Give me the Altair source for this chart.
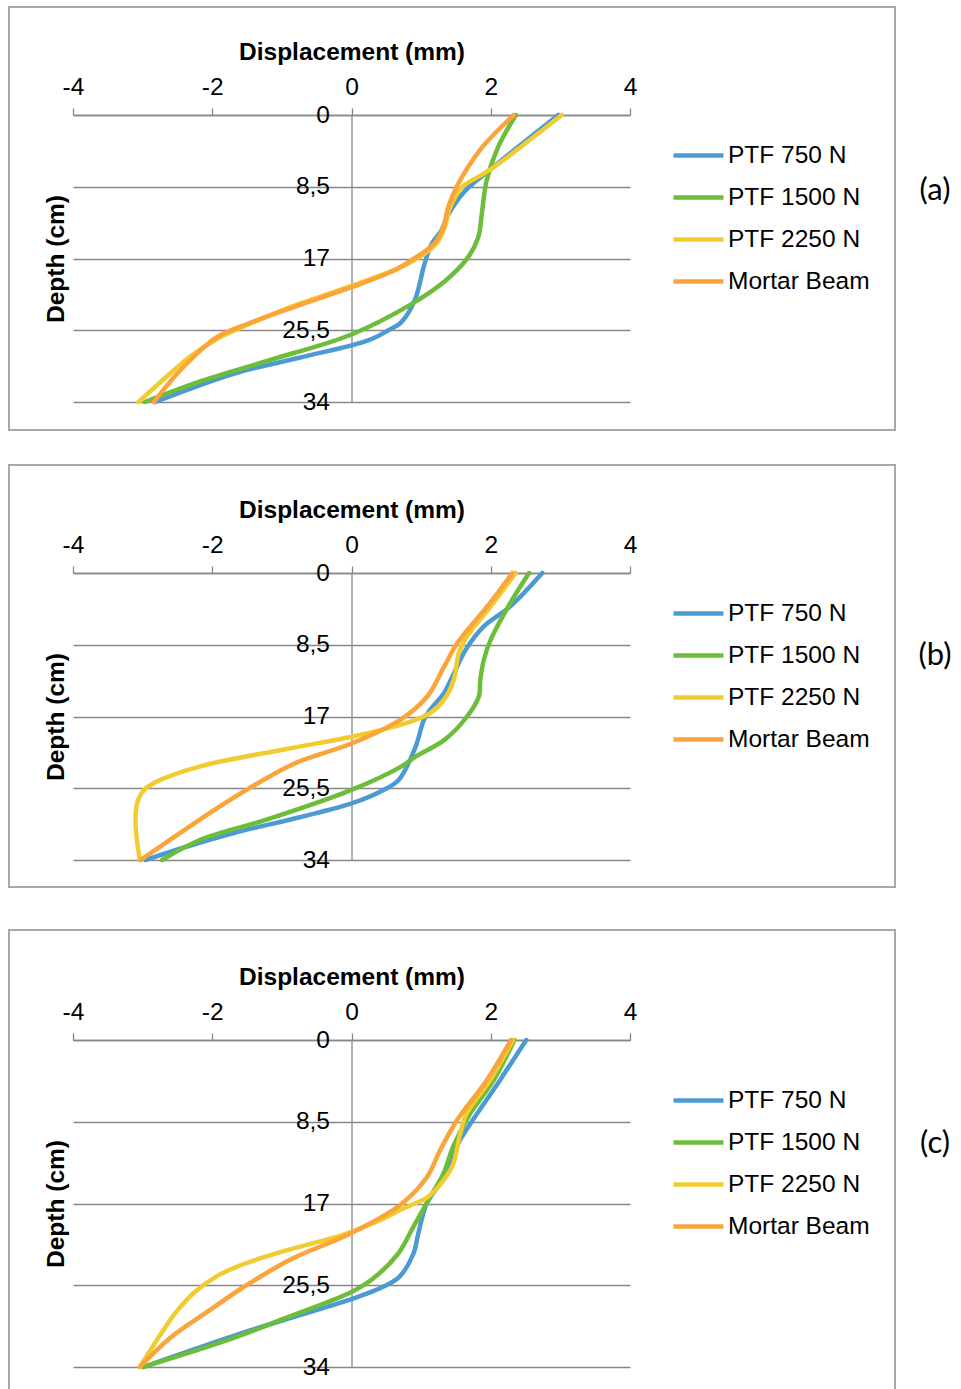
import altair as alt
import pandas as pd

SERIES = ["PTF 750 N", "PTF 1500 N", "PTF 2250 N", "Mortar Beam"]
COLORS = ["#4b9bd2", "#6cbd3a", "#f1cc30", "#faa43a"]

X_TICKS = [-4, -2, 0, 2, 4]
DEPTH_TICKS = [0, 8.5, 17, 25.5, 34]

# ---- panel (a) ----
a_750_depth = [0, 6.6, 9.0, 11.8, 13.7, 15.3, 17.6, 21.9, 24.5, 25.5, 26.7, 28.7, 30.6, 34]
a_750_disp = [2.97, 1.97, 1.63, 1.39, 1.29, 1.15, 1.05, 0.91, 0.72, 0.53, 0.24, -0.72, -1.67, -2.82]
a_1500_depth = [0, 3.9, 7.8, 11.8, 14.5, 16.9, 19.7, 22.4, 26.0, 29.1, 31.5, 34]
a_1500_disp = [2.36, 2.1, 1.94, 1.87, 1.82, 1.67, 1.34, 0.86, 0.0, -1.2, -2.15, -2.97]
a_2250_depth = [0, 6.6, 8.6, 10.9, 13.3, 14.9, 16.0, 17.2, 18.4, 20.4, 22.7, 24.7, 26.3, 28.5, 30.6, 34]
a_2250_disp = [3.02, 1.97, 1.58, 1.42, 1.34, 1.25, 1.12, 0.9, 0.6, -0.05, -0.86, -1.45, -1.88, -2.3, -2.6, -3.06]
a_beam_depth = [0, 3.9, 8.5, 10.9, 13.3, 14.9, 16.0, 17.2, 18.4, 20.4, 22.7, 24.7, 26.3, 28.5, 30.6, 34]
a_beam_disp = [2.33, 1.87, 1.51, 1.39, 1.32, 1.22, 1.08, 0.86, 0.62, 0.0, -0.81, -1.48, -1.93, -2.25, -2.5, -2.84]

# ---- panel (b) ----
b_750_depth = [0, 3.96, 6.33, 9.1, 11.9, 14.2, 16.2, 17.4, 20.6, 24.5, 25.7, 27.3, 28.9, 30.8, 32.4, 34]
b_750_disp = [2.74, 2.28, 1.90, 1.64, 1.47, 1.33, 1.13, 1.04, 0.92, 0.68, 0.46, 0.0, -0.73, -1.69, -2.36, -2.96]
b_1500_depth = [0, 3.56, 7.9, 10.3, 12.65, 14.6, 17.0, 19.8, 21.7, 23.0, 25.7, 29.2, 31.6, 34]
b_1500_disp = [2.55, 2.28, 2.0, 1.9, 1.85, 1.83, 1.66, 1.33, 0.93, 0.7, 0.0, -1.21, -2.17, -2.72]
b_2250_depth = [0, 3.96, 7.5, 9.5, 12.65, 15.0, 16.6, 17.6, 18.2, 19.4, 20.9, 22.9, 24.5, 25.7, 27.3, 30.0, 34]
b_2250_disp = [2.36, 2.0, 1.66, 1.54, 1.47, 1.33, 1.13, 0.85, 0.61, 0.0, -0.97, -2.17, -2.74, -2.98, -3.08, -3.1, -3.04]
b_beam_depth = [0, 3.96, 8.3, 11.1, 14.6, 17.4, 20.2, 22.5, 25.5, 28.5, 31.3, 34]
b_beam_disp = [2.31, 1.95, 1.52, 1.33, 1.09, 0.70, 0.0, -0.8, -1.47, -2.05, -2.55, -3.03]

# ---- panel (c) ----
c_750_depth = [0, 4.2, 7.7, 10.4, 12.9, 14.9, 17.0, 20.1, 22.2, 24.6, 25.5, 26.9, 28.6, 30.3, 34]
c_750_disp = [2.51, 2.13, 1.80, 1.56, 1.41, 1.27, 1.08, 0.96, 0.89, 0.69, 0.50, 0.02, -0.74, -1.5, -2.99]
c_1500_depth = [0, 4.2, 7.7, 11.1, 13.9, 16.3, 19.4, 22.2, 24.8, 26.2, 29.0, 31.0, 34]
c_1500_disp = [2.34, 2.04, 1.70, 1.46, 1.32, 1.13, 0.89, 0.67, 0.31, 0.0, -0.98, -1.70, -2.99]
c_2250_depth = [0, 4.2, 7.7, 9.8, 12.9, 14.6, 16.3, 17.6, 18.6, 20.2, 21.8, 23.3, 24.5, 26.2, 28.3, 30.7, 34]
c_2250_disp = [2.32, 1.99, 1.65, 1.56, 1.46, 1.32, 1.1, 0.72, 0.45, -0.1, -0.9, -1.55, -1.92, -2.25, -2.52, -2.75, -3.04]
c_beam_depth = [0, 4.2, 8.4, 11.5, 14.3, 17.2, 20.3, 22.7, 25.5, 28.3, 31.0, 34]
c_beam_disp = [2.29, 1.94, 1.51, 1.27, 1.08, 0.69, -0.07, -0.84, -1.51, -2.08, -2.61, -3.04]

GRID = "#878787"
FRAME = "#a8a8a8"
FONT = "Liberation Sans"
PLOT_W = 557
TXT = 24.5


def table(depth_lists, disp_lists):
    rows = []
    for name, depths, disps in zip(SERIES, depth_lists, disp_lists):
        for d, x in zip(depths, disps):
            rows.append({"series": name, "depth": d, "disp": x})
    return pd.DataFrame(rows)


def panel(df, tag, height, legend_y, tag_y, frame_top, frame_bottom, reserve_bottom=None):
    x_axis = alt.Axis(
        orient="top", values=X_TICKS, title="Displacement (mm)",
        # plain hyphen for negative numbers
        labelExpr="datum.value < 0 ? '-' + format(-datum.value, '~g') : format(datum.value, '~g')",
        titleFont=FONT, titleFontSize=TXT, titleFontWeight="bold", titleColor="black",
        titlePadding=10, labelFont=FONT, labelFontSize=TXT, labelColor="black",
        labelPadding=9, labelFlush=False, labelOverlap=False,
        domainColor=GRID, domainWidth=1.3, tickColor=GRID, tickWidth=1.3,
        tickSize=7, grid=False,
    )
    y_axis = alt.Axis(
        orient="left", values=DEPTH_TICKS, offset=-PLOT_W / 2,
        labelExpr="replace(format(datum.value, '~g'), '.', ',')",
        labelFont=FONT, labelFontSize=TXT, labelColor="black",
        labelPadding=22, labelFlush=False, labelOverlap=False,
        ticks=False, tickSize=0,
        domainColor=GRID, domainWidth=1.3,
        grid=True, gridColor=GRID, gridWidth=1.3,
        title="Depth (cm)", titleFont=FONT, titleFontSize=TXT,
        titleFontWeight="bold", titleColor="black",
        titleX=-283, titleY=height / 2,
    )
    legend = alt.Legend(
        orient="none", legendX=598, legendY=legend_y, title=None,
        labelFont=FONT, labelFontSize=TXT, labelColor="black",
        symbolType="stroke", symbolSize=2500, symbolStrokeWidth=4.5,
        labelOffset=2, rowPadding=3,
    )
    lines = alt.Chart(df).mark_line(
        strokeWidth=4.5, interpolate="catmull-rom", strokeCap="round", strokeJoin="round"
    ).encode(
        x=alt.X("disp:Q", scale=alt.Scale(domain=[-4, 4], nice=False, zero=False), axis=x_axis),
        y=alt.Y("depth:Q", scale=alt.Scale(domain=[0, 34], nice=False, reverse=True), axis=y_axis),
        color=alt.Color("series:N", scale=alt.Scale(domain=SERIES, range=COLORS), legend=legend),
        order=alt.Order("depth:Q"),
    )
    box = alt.Chart(alt.Data(values=[{"k": 0}])).mark_rect(
        filled=False, stroke=FRAME, strokeWidth=2
    ).encode(
        x=alt.value(-64), x2=alt.value(822), y=alt.value(frame_top), y2=alt.value(frame_bottom)
    )
    label = alt.Chart(alt.Data(values=[{"tag": tag}])).mark_text(
        font="Lato", fontSize=31, color="black", align="center", baseline="middle"
    ).encode(text="tag:N", x=alt.value(862), y=alt.value(tag_y))
    layers = [box]
    if reserve_bottom is not None:
        layers.append(
            alt.Chart(alt.Data(values=[{"k": 0}])).mark_rect(opacity=0).encode(
                x=alt.value(0), x2=alt.value(10),
                y=alt.value(frame_bottom - 10), y2=alt.value(reserve_bottom),
            )
        )
    layers += [lines, label]
    return alt.layer(*layers).properties(width=PLOT_W, height=height)


panel_a = panel(
    table([a_750_depth, a_1500_depth, a_2250_depth, a_beam_depth],
          [a_750_disp, a_1500_disp, a_2250_disp, a_beam_disp]),
    "(a)", 287, 13, 76, -108, 315,
)
panel_b = panel(
    table([b_750_depth, b_1500_depth, b_2250_depth, b_beam_depth],
          [b_750_disp, b_1500_disp, b_2250_disp, b_beam_disp]),
    "(b)", 287, 13, 83, -108, 314, reserve_bottom=323,
)
panel_c = panel(
    table([c_750_depth, c_1500_depth, c_2250_depth, c_beam_depth],
          [c_750_disp, c_1500_disp, c_2250_disp, c_beam_disp]),
    "(c)", 327, 33, 104, -110, 352,
)

chart = alt.vconcat(panel_a, panel_b, panel_c, spacing=31).resolve_scale(
    x="independent", y="independent", color="independent"
).properties(
    padding={"left": 7, "top": 5, "right": 0, "bottom": 0},
    background="white",
).configure_view(stroke="transparent")

chart.save("out.html", embed_options={"renderer": "svg", "actions": False})
